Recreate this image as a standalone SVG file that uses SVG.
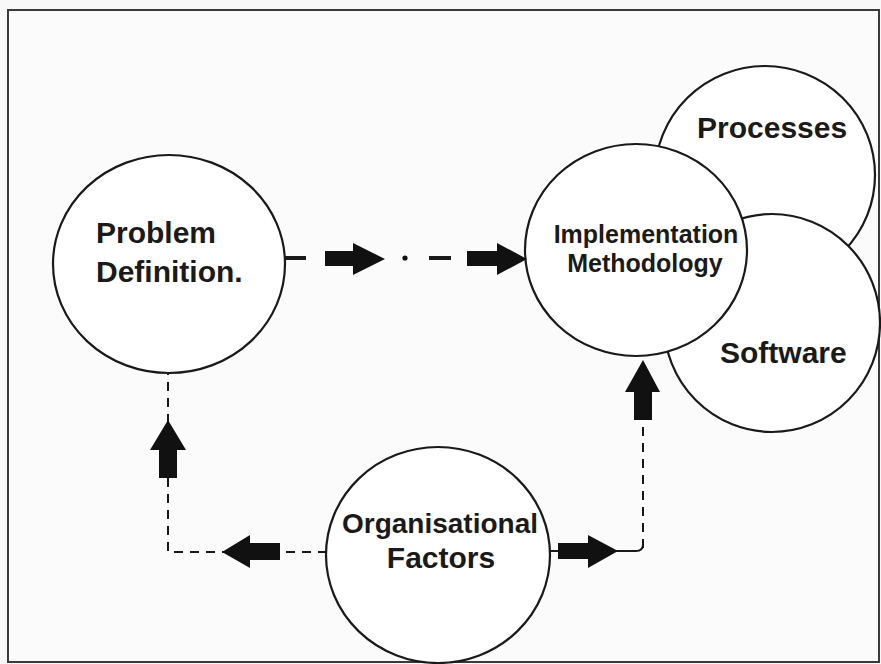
<svg xmlns="http://www.w3.org/2000/svg" width="881" height="664" viewBox="0 0 881 664">
  <style>
    .node { fill: #ffffff; stroke: #1a1a1a; stroke-width: 2.2; }
    .lbl { font-family: "Liberation Sans", Arial, sans-serif; font-weight: bold; fill: #1a1a1a; }
    .dash { fill: none; stroke: #1a1a1a; stroke-width: 2; stroke-dasharray: 9 7; }
    .thick { fill: none; stroke: #1a1a1a; stroke-width: 4; }
    .arrow { fill: #111111; stroke: none; }
  </style>
  <rect x="0" y="0" width="881" height="664" fill="#f8f8f8"/>
  <rect x="8" y="10" width="871" height="652" fill="#fbfbfb" stroke="#3a3a3a" stroke-width="2"/>

  <g id="processes">
    <ellipse class="node" cx="765" cy="175" rx="110" ry="109"/>
    <text class="lbl" x="697" y="138" font-size="30">Processes</text>
  </g>
  <g id="software">
    <ellipse class="node" cx="772" cy="323" rx="108" ry="109"/>
    <text class="lbl" x="720" y="363" font-size="30">Software</text>
  </g>
  <g id="implementation">
    <ellipse class="node" cx="636" cy="250" rx="111" ry="106"/>
    <text class="lbl" x="646" y="243" font-size="25" text-anchor="middle">Implementation</text>
    <text class="lbl" x="645" y="272" font-size="25" text-anchor="middle">Methodology</text>
  </g>
  <g id="problem">
    <ellipse class="node" cx="169" cy="264" rx="116" ry="109"/>
    <text class="lbl" x="96" y="243" font-size="30">Problem</text>
    <text class="lbl" x="96" y="282" font-size="30">Definition.</text>
  </g>
  <g id="organisational">
    <ellipse class="node" cx="438" cy="555" rx="112" ry="108"/>
    <text class="lbl" x="440" y="533" font-size="28" text-anchor="middle">Organisational</text>
    <text class="lbl" x="441" y="568" font-size="30" text-anchor="middle">Factors</text>
  </g>

  <g id="connectors">
    <!-- Problem -> Implementation -->
    <line class="thick" x1="285" y1="258" x2="306" y2="258"/>
    <polygon class="arrow" points="325,251 353,251 353,243 385,259 353,275 353,266 325,266"/>
    <circle cx="405" cy="258" r="2.6" fill="#111"/>
    <line class="thick" x1="429" y1="258" x2="451" y2="258"/>
    <polygon class="arrow" points="467,251 497,251 497,243 527,259 497,275 497,266 467,266"/>

    <!-- Organisational -> Problem -->
    <path class="dash" d="M327,552 H168 V373"/>
    <polygon class="arrow" points="222,552 250,535 250,543 280,543 280,560 250,560 250,568"/>
    <polygon class="arrow" points="168,420 186,450 177,450 177,478 159,478 159,450 150,450"/>

    <!-- Organisational -> Implementation -->
    <path class="dash" d="M643,548 V392"/>
    <path d="M550,551 H636 Q643,551 643,544" fill="none" stroke="#1a1a1a" stroke-width="2"/>
    <polygon class="arrow" points="618,551 588,535 588,543 558,543 558,559 588,559 588,568"/>
    <polygon class="arrow" points="643,360 660,392 652,392 652,420 634,420 634,392 625,392"/>
  </g>
</svg>
